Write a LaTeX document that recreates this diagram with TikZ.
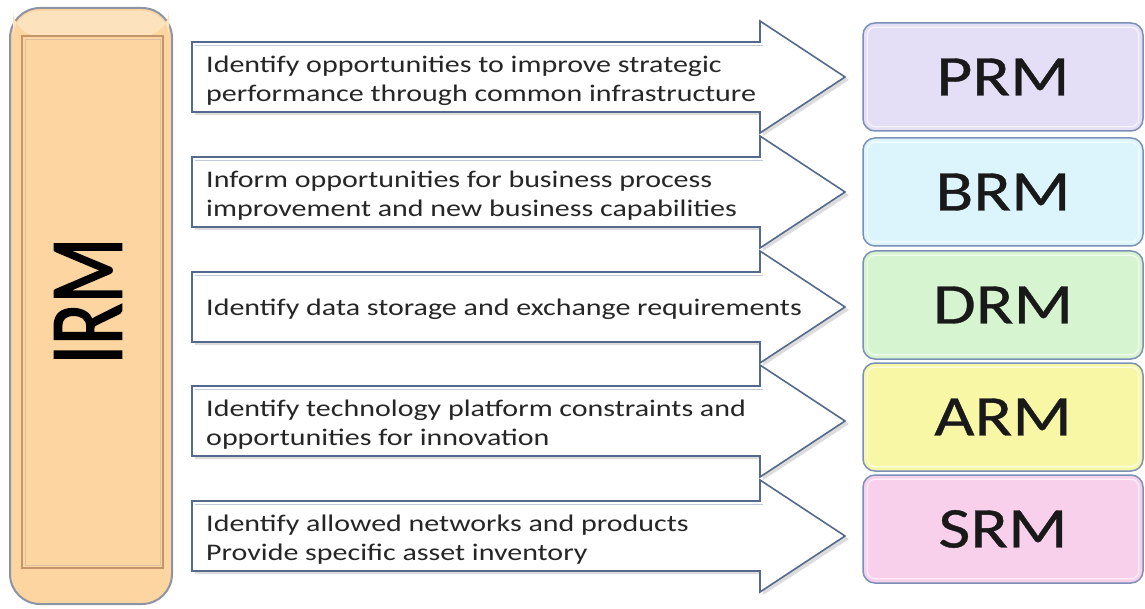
\documentclass[tikz,border=0pt]{standalone}
\usepackage{fontspec}
\setmainfont{Carlito}
\newfontfamily\arrowfont[FakeStretch=1.26]{Carlito}
\newfontfamily\labfont[FakeStretch=1.21, FakeBold=0.6]{Carlito}
\newfontfamily\irmfont[FakeStretch=0.73, FakeBold=1.5]{Carlito}
\definecolor{irmfill}{HTML}{FCD5A0}
\definecolor{irmtop}{HTML}{FDE2BE}
\definecolor{irmedge}{HTML}{8C94A6}
\definecolor{irminner}{HTML}{C49568}
\definecolor{arrowedge}{HTML}{55698C}
\definecolor{prmfill}{HTML}{E4DEF7}
\definecolor{brmfill}{HTML}{DCF5FC}
\definecolor{drmfill}{HTML}{D6F4CF}
\definecolor{armfill}{HTML}{F7F7A6}
\definecolor{srmfill}{HTML}{F9D0EC}
\definecolor{boxedge}{HTML}{7A90B8}
\newcommand\myarrow[1]{%
  \fill[black!30, opacity=.45] (195,#1-32) -- (763,#1-32) -- (763,#1-53) -- (849,#1+3) -- (763,#1+59) -- (763,#1+38) -- (195,#1+38) -- cycle;
  \draw[arrowedge, line width=1.6, fill=white, line join=miter] (192,#1-35) -- (760,#1-35) -- (760,#1-56) -- (845,#1) -- (760,#1+56) -- (760,#1+35) -- (192,#1+35) -- cycle;
  \draw[arrowedge!35, line width=0.8] (195,#1-32) -- (763,#1-32);
}
\begin{document}
\begin{tikzpicture}[x=1pt, y=-1pt,
  atext/.style={anchor=west, align=left, inner sep=0pt, text=black!85,
    font=\arrowfont\fontsize{23.8}{29}\selectfont},
  rmbox/.style={draw=boxedge, line width=1.5, rounded corners=12,
    minimum width=280, minimum height=108, inner sep=0pt, text=black!90,
    font=\labfont\fontsize{57.5}{60}\selectfont},
  bevel/.style={draw=white, line width=1.2, opacity=.7, rounded corners=8}]
\useasboundingbox (0,0) rectangle (1145,609);
% IRM column
\draw[irmedge, line width=2, fill=irmfill, rounded corners=30] (10,8) rectangle (172,604);
\fill[irmtop, rounded corners=26] (13,11) rectangle (169,36);
\draw[irminner, line width=1.2] (22,36) rectangle (163,568);
\draw[irminner!60, line width=0.8] (25,39) rectangle (160,565);
\node[rotate=90, inner sep=0pt] (irm) at (88,301) {\irmfont\fontsize{105}{105}\selectfont IRM};
% arrows
\myarrow{77}
\myarrow{192}
\myarrow{307}
\myarrow{421}
\myarrow{536}
\node[atext] (t1) at (206,81) {Identify opportunities to improve strategic\\performance through common infrastructure};
\node[atext] (t2) at (206,196) {Inform opportunities for business process\\improvement and new business capabilities};
\node[atext] (t3) at (206,309) {Identify data storage and exchange requirements};
\node[atext] (t4) at (206,425) {Identify technology platform constraints and\\opportunities for innovation};
\node[atext] (t5) at (206,540) {Identify allowed networks and products\\Provide specific asset inventory};
% reference model boxes
\node[rmbox, fill=prmfill] (prm) at (1003,77) {PRM};
\node[rmbox, fill=brmfill] (brm) at (1003,192) {BRM};
\node[rmbox, fill=drmfill] (drm) at (1003,305) {DRM};
\node[rmbox, fill=armfill] (arm) at (1003,417) {ARM};
\node[rmbox, fill=srmfill] (srm) at (1003,529) {SRM};
\foreach \b in {prm,brm,drm,arm,srm}{
  \draw[bevel] ([shift={(5,5)}]\b.north west) rectangle ([shift={(-5,-5)}]\b.south east);
}
\end{tikzpicture}
\end{document}
